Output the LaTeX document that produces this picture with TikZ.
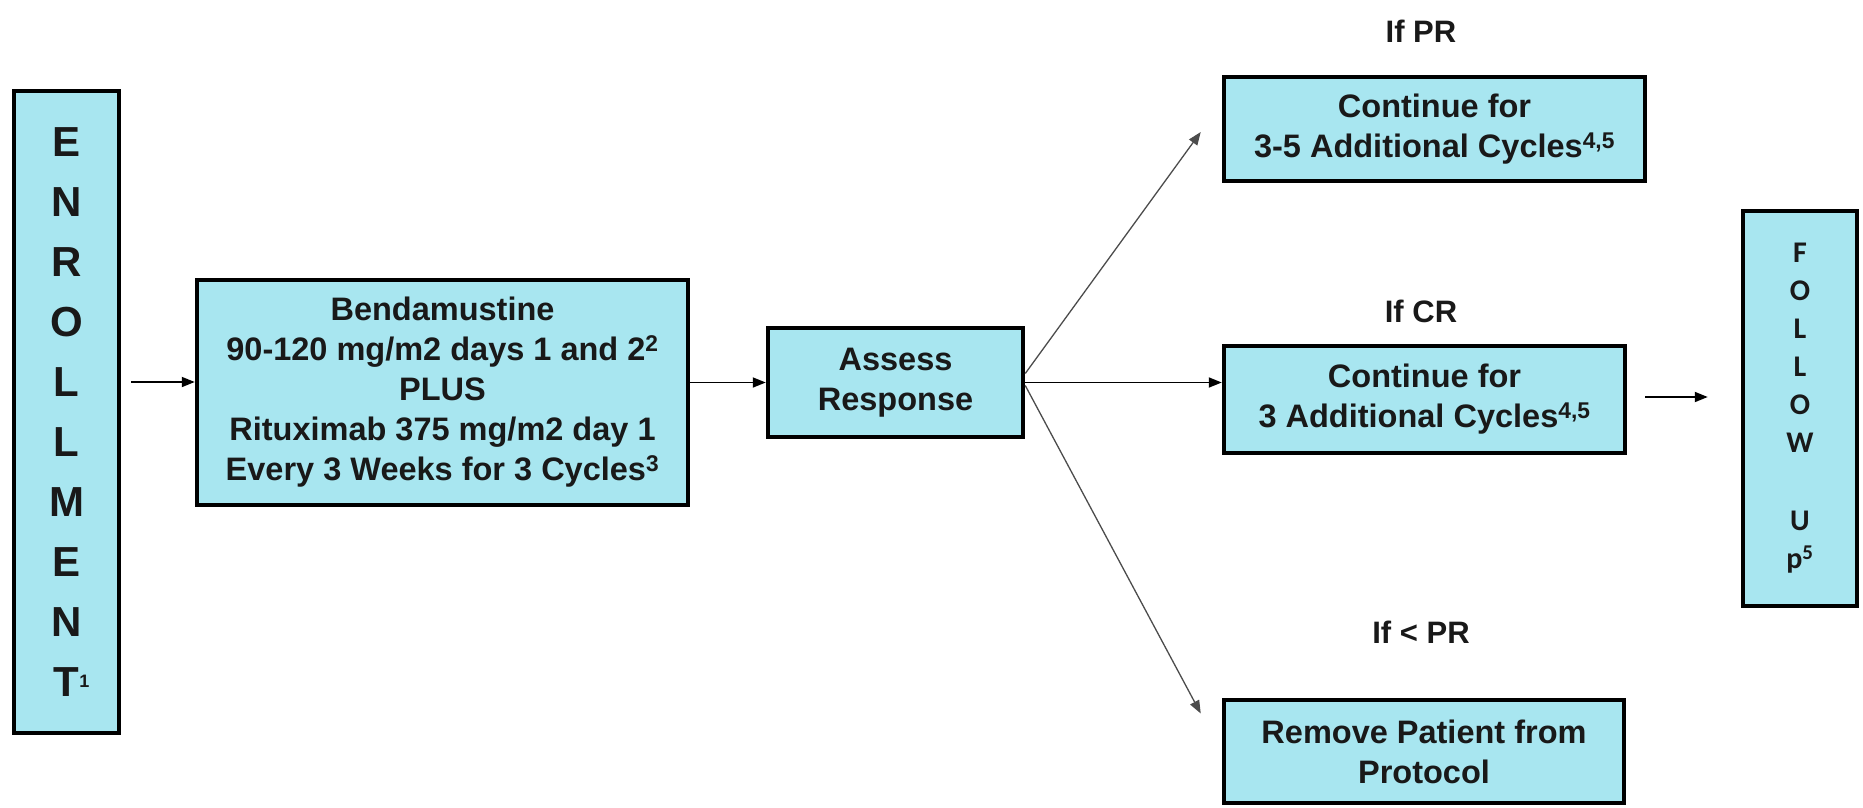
\documentclass[tikz,border=0pt]{standalone}
\usepackage{fontspec}
\setmainfont{Liberation Sans}
\newfontfamily\calibrifont{Carlito}
\usetikzlibrary{arrows.meta,calc}
\definecolor{boxfill}{RGB}{168,230,240}
\definecolor{ink}{RGB}{25,25,25}

\begin{document}
\begin{tikzpicture}[x=1pt,y=-1pt,
  box/.style={draw=black,line width=4.5pt,fill=boxfill,text=ink,align=center,
    inner sep=0pt,font=\bfseries\fontsize{32.5}{40}\selectfont},
  lbl/.style={text=ink,font=\bfseries\fontsize{31}{40}\selectfont},
  arr/.style={draw=black,line width=1.8pt,-{Triangle[length=13pt,width=10pt]}},
  branch/.style={draw=black!70,line width=1.3pt,-{Triangle[length=13pt,width=10pt]}}]
\useasboundingbox (0,0) rectangle (1863,808);

% boxes
\node[box,minimum width=105pt,minimum height=642pt,
  font=\bfseries\fontsize{42}{60}\selectfont] (enr) at (66.5,412)
  {E\\N\\R\\O\\L\\L\\M\\E\\N\\T\rlap{\raisebox{9pt}{\fontsize{18}{18}\selectfont 1}}};
\node[box,minimum width=491pt,minimum height=225pt] (bend) at (442.5,392.5)
  {Bendamustine\\90-120 mg/m2 days 1 and 2\textsuperscript{2}\\PLUS\\
   Rituximab 375 mg/m2 day 1\\Every 3 Weeks for 3 Cycles\textsuperscript{3}};
\node[box,minimum width=255pt,minimum height=109pt] (assess) at (895.5,382.5)
  {Assess\\Response};
\node[box,minimum width=421pt,minimum height=104pt] (pr) at (1434.5,129)
  {Continue for\\3-5 Additional Cycles\textsuperscript{4,5}};
\node[box,minimum width=401pt,minimum height=107pt] (cr) at (1424.5,399.5)
  {Continue for\\3 Additional Cycles\textsuperscript{4,5}};
\node[box,minimum width=400pt,minimum height=103pt] (rm) at (1424,751.5)
  {Remove Patient from\\Protocol};
\node[box,minimum width=114pt,minimum height=395pt,
  font=\calibrifont\bfseries\fontsize{30}{38}\selectfont] (follow) at (1800,408.5)
  {F\\O\\L\\L\\O\\W\\[40pt]U\\p\textsuperscript{5}};

% branch labels
\node[lbl] (lpr) at (1421,31) {If PR};
\node[lbl] (lcr) at (1421,311) {If CR};
\node[lbl] (lrm) at (1421,632) {If < PR};

% connector end points
\coordinate (e1) at (131,382);
\coordinate (prtip) at ($(pr.west)+(-21,3)$);
\coordinate (rmtip) at ($(rm.west)+(-21,-38)$);
\coordinate (c1) at ($(cr.east)+(18,-2.5)$);
\coordinate (c2) at ($(c1 -| follow.west)+(-33,0)$);

% connectors
\draw[arr] (e1) -- (bend.west |- e1);
\draw[arr] (bend.east |- assess.west) -- (assess.west);
\draw[branch] ($(assess.east)+(0,-9)$) -- (prtip);
\draw[arr] (assess.east) -- (cr.west |- assess.east);
\draw[branch] ($(assess.east)+(0,3)$) -- (rmtip);
\draw[arr] (c1) -- (c2);
\end{tikzpicture}
\end{document}
